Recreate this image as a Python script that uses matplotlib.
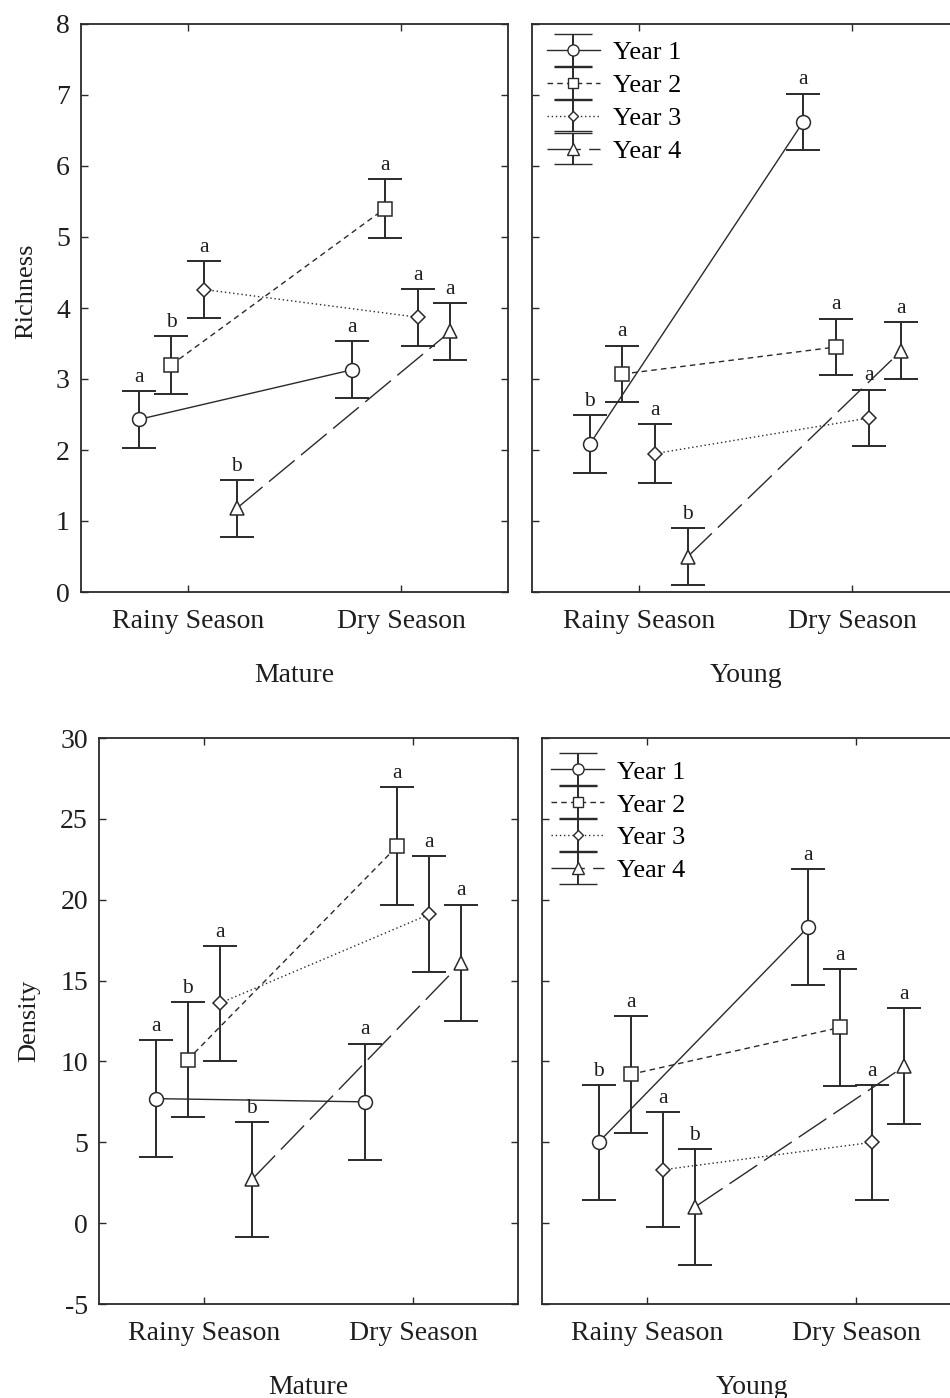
import matplotlib
matplotlib.use("Agg")
import matplotlib.pyplot as plt
from matplotlib.legend_handler import HandlerErrorbar
import numpy as np

plt.rcParams['font.family'] = ['Liberation Serif', 'DejaVu Serif']
plt.rcParams['axes.unicode_minus'] = False

seasons = ["Rainy Season", "Dry Season"]
years = ["Year 1", "Year 2", "Year 3", "Year 4"]

# Richness - Mature  (rows: years, cols: rainy, dry)
rich_mature = [[2.43, 3.13], [3.20, 5.40], [4.26, 3.87], [1.18, 3.67]]
rich_mature_err = [[0.40, 0.40], [0.41, 0.41], [0.40, 0.40], [0.40, 0.40]]
rich_mature_let = [["a", "a"], ["b", "a"], ["a", "a"], ["b", "a"]]

# Richness - Young
rich_young = [[2.08, 6.62], [3.07, 3.45], [1.95, 2.45], [0.50, 3.40]]
rich_young_err = [[0.41, 0.40], [0.40, 0.40], [0.41, 0.40], [0.40, 0.40]]
rich_young_let = [["b", "a"], ["a", "a"], ["a", "a"], ["b", "a"]]

# Density - Mature
dens_mature = [[7.7, 7.5], [10.1, 23.3], [13.6, 19.1], [2.7, 16.1]]
dens_mature_err = [[3.6, 3.6], [3.55, 3.65], [3.55, 3.6], [3.55, 3.6]]
dens_mature_let = [["a", "a"], ["b", "a"], ["a", "a"], ["b", "a"]]

# Density - Young
dens_young = [[5.0, 18.3], [9.2, 12.1], [3.3, 5.0], [1.0, 9.7]]
dens_young_err = [[3.55, 3.6], [3.6, 3.6], [3.55, 3.55], [3.6, 3.6]]
dens_young_let = [["b", "a"], ["a", "a"], ["a", "a"], ["b", "a"]]

rich_ticks = [0, 1, 2, 3, 4, 5, 6, 7, 8]
dens_ticks = [-5, 0, 5, 10, 15, 20, 25, 30]

offsets = [-0.23, -0.077, 0.077, 0.23]
markers = ['o', 's', 'D', '^']
msizes = [10, 9.5, 7, 10]
styles = ['-', (0, (4, 3)), (0, (1, 2)), (0, (24, 6))]

LC = '#2a2a2a'
TC = '#1e1e1e'

fig = plt.figure(figsize=(9.5, 13.98), dpi=100)
W, H = 950.0, 1398.0
def ax_at(l, t, r, b):
    return fig.add_axes([l / W, 1 - b / H, (r - l) / W, (b - t) / H])

axTL = ax_at(81, 24, 508, 592)
axTR = ax_at(532, 24, 959, 592)
axBL = ax_at(99, 738, 518, 1304)
axBR = ax_at(542, 738, 961, 1304)

def draw(ax, vals, errs, lets, ylim, yticks, xlabel, ylabel=None, ylabel_xy=None,
         show_ylabels=True, legend_anchor=None):
    handles = []
    for i in range(4):
        xs = np.arange(2) + offsets[i]
        ax.plot(xs, vals[i], linestyle=styles[i], color=LC, lw=1.0, zorder=2)
        ax.errorbar(xs, vals[i], yerr=errs[i], fmt='none', ecolor=LC,
                    elinewidth=1.4, capsize=12, capthick=1.4, zorder=3)
        ax.plot(xs, vals[i], linestyle='none', marker=markers[i], ms=msizes[i],
                mfc='white', mec=LC, mew=1.1, zorder=4)
        # legend proxy
        h = ax.errorbar([np.nan], [np.nan], yerr=[1], linestyle=styles[i], color=LC, lw=1.0,
                        marker=markers[i], ms=msizes[i] * 0.8, mfc='white', mec=LC, mew=1.0,
                        ecolor=LC, elinewidth=1.4, capsize=14, capthick=1.4, label=years[i])
        handles.append(h)
        for j in range(2):
            ax.annotate(lets[i][j], (xs[j], vals[i][j] + errs[i][j]), xytext=(0, 3),
                        textcoords='offset points', ha='center', va='bottom',
                        fontsize=15.5, color=TC)
    ax.set_xlim(-0.5, 1.5)
    ax.set_ylim(*ylim)
    ax.set_yticks(yticks)
    ax.set_xticks([0, 1])
    ax.set_xticklabels(seasons, fontsize=20, color=TC)
    ax.tick_params(axis='both', direction='in', length=5, width=1, color=LC,
                   top=True, right=True)
    ax.tick_params(axis='x', pad=12)
    ax.tick_params(axis='y', pad=8, labelsize=20, labelcolor=TC)
    if not show_ylabels:
        ax.set_yticklabels([])
    for s in ax.spines.values():
        s.set_color(LC)
        s.set_linewidth(1.3)
    ax.set_xlabel(xlabel, fontsize=20, color=TC, labelpad=21)
    if ylabel:
        ax.set_ylabel(ylabel, fontsize=19, color=TC)
        ax.yaxis.set_label_coords(*ylabel_xy)
    if legend_anchor is not None:
        ax.legend(handles=handles, loc='upper left', frameon=False, fontsize=19,
                  handlelength=2.0, handletextpad=0.5, labelspacing=0.36,
                  borderaxespad=0.0, borderpad=0.0, bbox_to_anchor=legend_anchor,
                  handler_map={type(handles[0]): HandlerErrorbar(xerr_size=0.5, yerr_size=0.6)})

draw(axTL, rich_mature, rich_mature_err, rich_mature_let, (0, 8), rich_ticks, "Mature",
     "Richness", ylabel_xy=(-0.102, 0.53))
draw(axTR, rich_young, rich_young_err, rich_young_let, (0, 8), rich_ticks, "Young",
     show_ylabels=False, legend_anchor=(0.035, 0.971))
draw(axBL, dens_mature, dens_mature_err, dens_mature_let, (-5, 30), dens_ticks, "Mature",
     "Density", ylabel_xy=(-0.14, 0.5))
draw(axBR, dens_young, dens_young_err, dens_young_let, (-5, 30), dens_ticks, "Young",
     show_ylabels=False, legend_anchor=(0.022, 0.961))

fig.savefig("out.png", dpi=100, facecolor='white')
